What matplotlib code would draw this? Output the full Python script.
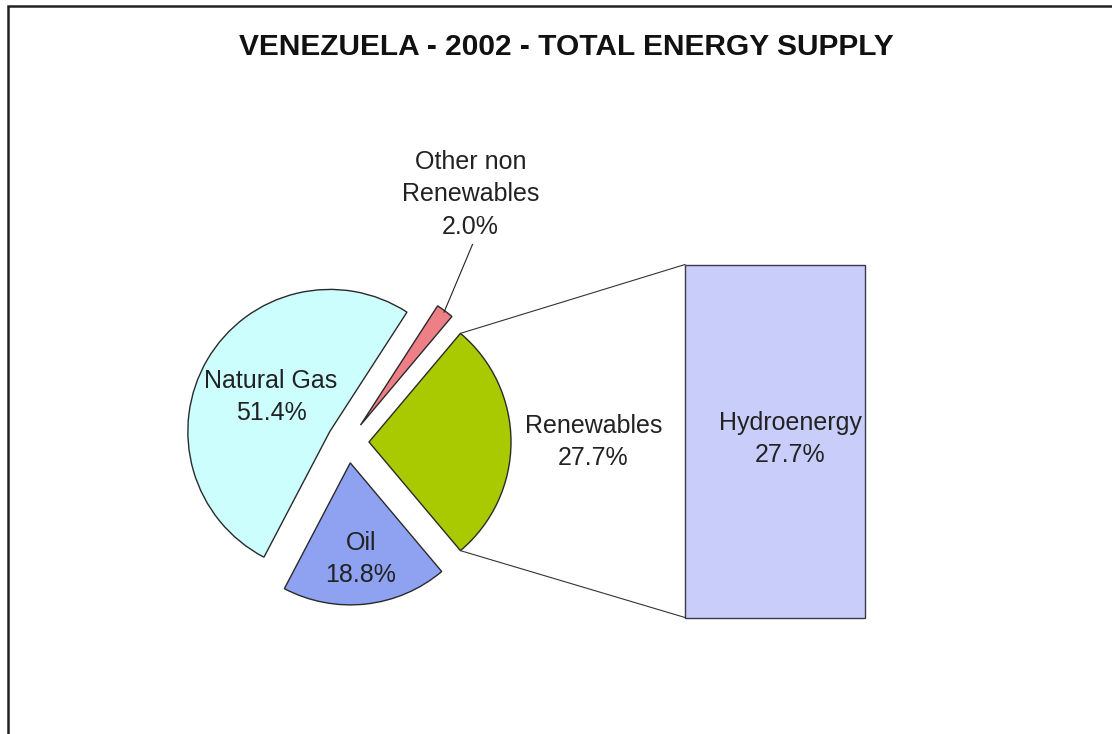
import numpy as np
import matplotlib
matplotlib.use("Agg")
import matplotlib.pyplot as plt
from matplotlib.patches import Rectangle

plt.rcParams['font.family'] = ['Liberation Sans', 'DejaVu Sans']

# Total energy supply shares (%)
categories = ["Renewables", "Other non\nRenewables", "Natural Gas", "Oil"]
shares = [27.7, 2.0, 51.4, 18.8]
colors = ["#A9CA00", "#EE7F86", "#CCFEFE", "#8FA2F2"]

# Breakdown of the renewables slice
sub_categories = ["Hydroenergy"]
sub_shares = [27.7]
sub_colors = ["#C9CDF9"]

title = "VENEZUELA - 2002 - TOTAL ENERGY SUPPLY"

W, H = 1112, 734
fig = plt.figure(figsize=(W / 100, H / 100), dpi=100)
ax = fig.add_axes([0, 0, 1, 1])

# outer frame of the chart area
ax.add_patch(Rectangle((8, -20), W + 20, H - 6 + 20, fill=False,
                       edgecolor='#222222', lw=1.8, zorder=0))

ax.text(566, H - 47, title, ha='center', va='center', fontsize=21.5,
        fontweight='bold', color='#111111')

# pie of the main categories (explode is given in data units)
center = (348, H - 442)
radius = 142
explode_px = 21
start = -shares[0] / sum(shares) * 360 / 2
wedges, _ = ax.pie(shares, colors=colors, startangle=start, counterclock=True,
                   radius=radius, center=center,
                   explode=[explode_px] * len(shares),
                   wedgeprops=dict(edgecolor='#2a2a2a', linewidth=1.0),
                   frame=True)
ax.set_xlim(0, W)
ax.set_ylim(0, H)
ax.set_aspect('equal')
ax.axis('off')

label_kw = dict(ha='center', va='center', fontsize=18, color='#222222',
                linespacing=1.45)


def wedge_point(w, angle_deg, dist):
    a = np.deg2rad(angle_deg)
    cx, cy = w.center
    return cx + dist * np.cos(a), cy + dist * np.sin(a)


def mid_angle(w):
    return (w.theta1 + w.theta2) / 2


# labels inside / beside each wedge
placement = {0: 1.58, 2: 0.48, 3: 0.68}
for i, frac in placement.items():
    w = wedges[i]
    x, y = wedge_point(w, mid_angle(w), frac * radius)
    ax.text(x, y, f"{categories[i]}\n{shares[i]:.1f}%", **label_kw)

# small slice: label placed above with a leader line
w_other = wedges[1]
tip = wedge_point(w_other, mid_angle(w_other), radius * 0.99)
lx, ly = wedge_point(w_other, 64.5, 1.8 * radius)
ax.text(lx, ly, f"{categories[1]}\n{shares[1]:.1f}%", **label_kw)
ax.plot([lx + 2, tip[0]], [ly - 50, tip[1]], color='#222222', lw=0.8)

# bar breaking down the renewables slice
bar_scale = 353 / sum(sub_shares)
bar_cy = H - 441
bars = ax.bar([775], [s * bar_scale for s in sub_shares], width=180,
              bottom=bar_cy - sum(sub_shares) * bar_scale / 2,
              color=sub_colors, edgecolor='#3a3a4a', linewidth=1.0)
b = bars[0]
bx0, by0 = b.get_x(), b.get_y()
bx1, by1 = bx0 + b.get_width(), by0 + b.get_height()
ax.text(790, (by0 + by1) / 2 + 2,
        f"{sub_categories[0]}\n{sub_shares[0]:.1f}%", **label_kw)

# connector lines from the renewables wedge to the bar
w_ren = wedges[0]
p_top = wedge_point(w_ren, w_ren.theta2, radius)
p_bot = wedge_point(w_ren, w_ren.theta1, radius)
ax.plot([p_top[0], bx0], [p_top[1], by1], color='#333333', lw=0.8)
ax.plot([p_bot[0], bx0], [p_bot[1], by0], color='#333333', lw=0.8)

ax.set_xlim(0, W)
ax.set_ylim(0, H)
fig.savefig("out.png", dpi=100, facecolor='white')
